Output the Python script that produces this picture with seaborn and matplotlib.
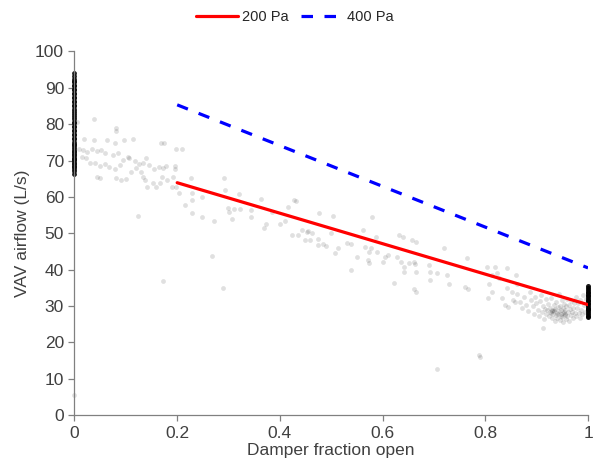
import numpy as np
import matplotlib
matplotlib.use("Agg")
import matplotlib.pyplot as plt
import seaborn as sns

# --- data ---
# scattered measurements (damper fraction open, airflow L/s)
scatter_x = [
    0.005, 0.038, 0.080, 0.080, 0.018, 0.038, 0.063, 0.078, 0.096, 0.114, 0.168, 0.175, 0.197, 0.210,
    0.009, 0.017, 0.025, 0.035, 0.044, 0.052, 0.059, 0.075, 0.085, 0.104,
    0.014, 0.022, 0.030, 0.040, 0.049, 0.059, 0.068, 0.078, 0.088, 0.094, 0.107, 0.117, 0.125, 0.134,
    0.139, 0.146, 0.155, 0.164, 0.173, 0.178, 0.196, 0.195,
    0.043, 0.049, 0.081, 0.091, 0.101, 0.110, 0.120, 0.130, 0.133, 0.137, 0.142, 0.152, 0.159, 0.166,
    0.171, 0.181, 0.191, 0.190, 0.197,
    0.123, 0.172, 0.289, 0.000,
    # 0.2 - 0.45
    0.226, 0.204, 0.228, 0.228, 0.249, 0.215, 0.291, 0.294, 0.321, 0.299, 0.300, 0.310, 0.323, 0.344,
    0.364, 0.384, 0.416, 0.428, 0.431, 0.228, 0.248, 0.272, 0.306, 0.344, 0.370, 0.373, 0.400, 0.410,
    0.423, 0.436, 0.443, 0.452, 0.449, 0.268,
    # 0.45 - 0.69
    0.476, 0.503, 0.579, 0.455, 0.462, 0.458, 0.474, 0.484, 0.474, 0.489, 0.500, 0.507, 0.513, 0.531,
    0.538, 0.550, 0.561, 0.565, 0.574, 0.578, 0.588, 0.589, 0.571, 0.574, 0.600, 0.605, 0.611, 0.538,
    0.632, 0.639, 0.629, 0.636, 0.642, 0.652, 0.658, 0.666, 0.661, 0.663, 0.665, 0.623, 0.661, 0.666,
    0.642, 0.706, 0.787, 0.790,
    # 0.69 - 0.86
    0.690, 0.692, 0.693, 0.706, 0.719, 0.726, 0.729, 0.764, 0.761, 0.767, 0.803, 0.808, 0.813, 0.806,
    0.813, 0.819, 0.822, 0.827, 0.832, 0.842, 0.842, 0.851, 0.854, 0.860, 0.861, 0.838, 0.845, 0.858,
    0.912,
    # dense cluster near fully open
    0.862, 0.868, 0.872, 0.876, 0.880, 0.884, 0.887, 0.889, 0.892, 0.895, 0.897, 0.899, 0.902, 0.904,
    0.906, 0.908, 0.910, 0.912, 0.914, 0.916, 0.918, 0.919, 0.921, 0.922, 0.924, 0.925, 0.927, 0.928,
    0.929, 0.930, 0.931, 0.933, 0.934, 0.935, 0.936, 0.937, 0.938, 0.939, 0.940, 0.941, 0.942, 0.943,
    0.944, 0.945, 0.946, 0.947, 0.948, 0.949, 0.950, 0.951, 0.952, 0.953, 0.954, 0.955, 0.956, 0.957,
    0.958, 0.959, 0.960, 0.961, 0.962, 0.963, 0.964, 0.966, 0.967, 0.968, 0.970, 0.971, 0.973, 0.974,
    0.976, 0.977, 0.979, 0.980, 0.982, 0.984, 0.985, 0.987, 0.989, 0.990, 0.992, 0.994, 0.996,
    0.930, 0.933, 0.952, 0.955, 0.948, 0.925,
]
scatter_y = [
    80.7, 81.3, 78.8, 78.1, 75.9, 75.6, 75.6, 74.7, 75.6, 75.8, 74.9, 74.9, 73.1, 73.3,
    73.3, 72.9, 72.4, 73.1, 72.6, 72.9, 72.1, 71.5, 72.0, 71.0,
    71.0, 70.6, 69.2, 69.2, 68.5, 69.0, 68.3, 67.8, 68.8, 70.1, 70.6, 70.0, 69.0, 69.2,
    70.6, 68.8, 67.8, 68.3, 68.0, 68.5, 68.5, 67.8,
    65.6, 65.1, 65.1, 64.6, 64.8, 66.9, 68.0, 66.9, 65.6, 64.6, 62.8, 63.7, 62.8, 63.7,
    65.6, 64.6, 65.6, 62.8, 62.8,
    54.8, 36.9, 35.1, 5.5,
    65.1, 61.0, 61.0, 59.1, 60.1, 57.8, 65.1, 61.9, 60.8, 56.9, 55.9, 56.6, 56.6, 56.4,
    59.3, 55.9, 57.1, 59.1, 59.0, 55.5, 54.6, 53.4, 53.9, 54.6, 51.4, 52.6, 52.6, 53.4,
    49.5, 49.5, 50.9, 50.4, 48.2, 43.8,
    55.7, 54.8, 54.6, 50.5, 50.0, 48.2, 48.3, 47.2, 46.8, 46.5, 50.0, 44.5, 45.9, 47.4,
    47.1, 43.6, 50.9, 46.3, 45.0, 45.9, 49.1, 45.0, 42.7, 41.8, 42.2, 43.6, 44.0, 39.9,
    49.5, 48.9, 43.6, 42.2, 39.5, 41.8, 48.2, 47.7, 42.2, 41.6, 39.5, 36.4, 34.6, 34.0,
    40.8, 12.6, 16.6, 16.1,
    41.3, 39.5, 37.2, 39.0, 45.9, 38.5, 36.2, 43.1, 35.3, 34.6, 40.8, 36.2, 38.5, 32.1,
    34.0, 40.8, 39.2, 37.6, 32.1, 40.4, 34.9, 34.0, 31.7, 38.5, 36.2, 30.3, 29.8, 31.2,
    23.9,
    33.2, 31.0, 29.5, 32.4, 30.4, 28.6, 33.8, 31.8, 29.9, 27.8, 32.6, 30.8, 29.0, 27.2,
    31.5, 33.0, 28.4, 30.1, 26.5, 29.2, 31.9, 27.8, 28.9, 30.6, 27.3, 29.5, 28.2, 32.2,
    26.8, 29.0, 27.9, 30.4, 28.6, 25.9, 29.3, 27.5, 31.2, 28.1, 26.6, 29.8, 27.9, 33.3,
    28.7, 26.2, 30.1, 27.4, 28.9, 31.6, 27.0, 29.4, 25.6, 28.3, 30.7, 27.7, 28.8, 26.4,
    29.9, 32.0, 27.2, 28.5, 30.3, 26.0, 29.1, 27.6, 31.4, 28.3, 29.6, 26.7, 30.8, 28.0,
    32.4, 27.3, 29.4, 30.9, 28.2, 26.8, 31.7, 29.0, 27.7, 33.1, 30.2, 28.5, 32.0,
    28.6, 28.9, 28.0, 27.6, 27.9, 28.3,
]

# readings stacked on the fully closed / fully open damper positions
closed_y = [66.4, 67.1, 67.6, 68.2, 68.6, 69.1, 69.4, 69.9, 70.3, 70.5, 71.0, 71.5, 71.8, 72.4,
            72.7, 73.3, 73.7, 74.3, 74.6, 75.2, 75.9, 76.3, 77.0, 77.4, 78.1, 78.5, 79.3, 79.6,
            80.4, 80.7, 81.5, 81.9, 82.6, 83.0, 83.7, 84.1, 84.9, 85.2, 86.0, 86.3, 87.1, 87.5,
            88.2, 88.6, 89.3, 89.7, 90.4, 90.8, 91.5, 91.9, 92.4, 93.2, 94.0]
open_y = [27.0, 27.4, 27.9, 28.3, 28.8, 29.1, 29.6, 30.0, 30.5, 30.9, 31.3, 31.8, 32.2, 32.7,
          33.1, 33.6, 34.0, 34.5, 34.9, 35.4]

# fitted lines for the two duct pressures
line_x = [0.2, 1.0]
pa200_y = [63.9, 30.4]
pa400_y = [85.3, 40.5]

sns.set_style("ticks")
plt.rcParams["font.family"] = ["Liberation Sans", "DejaVu Sans"]

fig = plt.figure(figsize=(5.93, 4.71), dpi=100)
ax = fig.add_axes([0.1256, 0.1183, 0.866, 0.7727])

sns.scatterplot(x=scatter_x, y=scatter_y, ax=ax, color="black", alpha=0.12, s=12,
                linewidth=0, clip_on=False, legend=False)
sns.scatterplot(x=[0.0] * len(closed_y), y=closed_y, ax=ax, color="black", alpha=0.9, s=12,
                linewidth=0, clip_on=False, legend=False)
sns.scatterplot(x=[1.0] * len(open_y), y=open_y, ax=ax, color="black", alpha=0.9, s=13,
                linewidth=0, clip_on=False, legend=False)

sns.lineplot(x=line_x, y=pa200_y, ax=ax, color="#ff0000", linewidth=2.3, label="200 Pa")
sns.lineplot(x=line_x, y=pa400_y, ax=ax, color="#0000ff", linewidth=2.3, label="400 Pa")
ax.lines[-1].set_dashes((3.6, 3.6))

ax.set_xlim(0, 1)
ax.set_ylim(0, 100)
ax.set_xticks([0, 0.2, 0.4, 0.6, 0.8, 1.0])
ax.set_xticklabels(["0", "0.2", "0.4", "0.6", "0.8", "1"])
ax.set_yticks(range(0, 101, 10))

for side in ["top", "right"]:
    ax.spines[side].set_visible(False)
for side in ["left", "bottom"]:
    ax.spines[side].set_color("#808080")
    ax.spines[side].set_linewidth(0.9)
ax.tick_params(axis="both", colors="#808080", labelcolor="#404040", labelsize=12.5,
               length=4, width=0.9, direction="out")

ax.set_xlabel("Damper fraction open", fontsize=12.5, color="#404040", labelpad=2)
ax.set_ylabel("VAV airflow (L/s)", fontsize=12.5, color="#404040", labelpad=4)

handles, labels = ax.get_legend_handles_labels()
ax.legend_.remove()
fig.legend(handles, labels, loc="center", bbox_to_anchor=(0.497, 0.963), ncol=2, frameon=False,
           fontsize=10.5, handlelength=2.9, handletextpad=0.3, columnspacing=0.8)

fig.savefig("out.png", dpi=100)
